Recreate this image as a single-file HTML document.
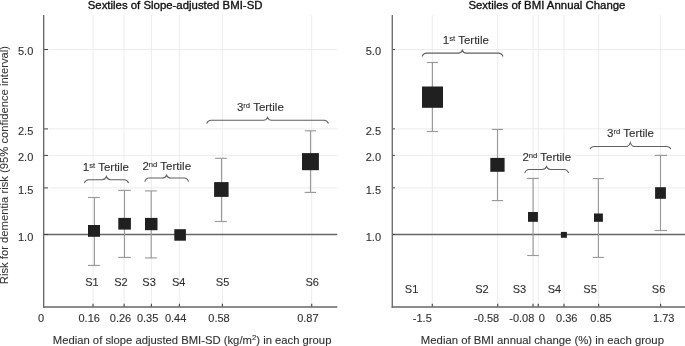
<!DOCTYPE html>
<html><head><meta charset="utf-8"><style>
html,body{margin:0;padding:0;background:#fff;width:685px;height:346px;overflow:hidden}
svg{display:block;filter:grayscale(1)}
text{font-family:"Liberation Sans",sans-serif;fill:#303030;stroke:#303030;stroke-width:0.12px}
text.tk{stroke-width:0.12px}
text.yl{stroke-width:0.05px;fill:#333;stroke:#333}
text.ttl{fill:#111;stroke:#111;stroke-width:0.35px}
</style></head><body>
<svg width="685" height="346" viewBox="0 0 685 346">
<line x1="93.0" y1="15" x2="93.0" y2="307.0" stroke="#ececef" stroke-width="1"/>
<line x1="124.1" y1="15" x2="124.1" y2="307.0" stroke="#ececef" stroke-width="1"/>
<line x1="151.4" y1="15" x2="151.4" y2="307.0" stroke="#ececef" stroke-width="1"/>
<line x1="179.4" y1="15" x2="179.4" y2="307.0" stroke="#ececef" stroke-width="1"/>
<line x1="222.4" y1="15" x2="222.4" y2="307.0" stroke="#ececef" stroke-width="1"/>
<line x1="311.7" y1="15" x2="311.7" y2="307.0" stroke="#ececef" stroke-width="1"/>
<line x1="49" y1="49.5" x2="337.3" y2="49.5" stroke="#ececef" stroke-width="1"/>
<line x1="49" y1="128.9" x2="337.3" y2="128.9" stroke="#ececef" stroke-width="1"/>
<line x1="49" y1="155.4" x2="337.3" y2="155.4" stroke="#ececef" stroke-width="1"/>
<line x1="49" y1="187.9" x2="337.3" y2="187.9" stroke="#ececef" stroke-width="1"/>
<line x1="43.67" y1="234.5" x2="337.3" y2="234.5" stroke="#666666" stroke-width="1.5"/>
<line x1="43" y1="49.5" x2="48" y2="49.5" stroke="#404040" stroke-width="1"/>
<line x1="43" y1="128.9" x2="48" y2="128.9" stroke="#404040" stroke-width="1"/>
<line x1="43" y1="155.4" x2="48" y2="155.4" stroke="#404040" stroke-width="1"/>
<line x1="43" y1="187.9" x2="48" y2="187.9" stroke="#404040" stroke-width="1"/>
<line x1="43" y1="234.5" x2="48" y2="234.5" stroke="#404040" stroke-width="1"/>
<line x1="93.0" y1="303.7" x2="93.0" y2="307.0" stroke="#505050" stroke-width="1.2"/>
<line x1="124.1" y1="303.7" x2="124.1" y2="307.0" stroke="#505050" stroke-width="1.2"/>
<line x1="151.4" y1="303.7" x2="151.4" y2="307.0" stroke="#505050" stroke-width="1.2"/>
<line x1="179.4" y1="303.7" x2="179.4" y2="307.0" stroke="#505050" stroke-width="1.2"/>
<line x1="222.4" y1="303.7" x2="222.4" y2="307.0" stroke="#505050" stroke-width="1.2"/>
<line x1="311.7" y1="303.7" x2="311.7" y2="307.0" stroke="#505050" stroke-width="1.2"/>
<line x1="43.67" y1="15" x2="43.67" y2="307.7" stroke="#686868" stroke-width="1.35"/>
<line x1="42.97" y1="307.0" x2="337.3" y2="307.0" stroke="#666" stroke-width="1.4"/>
<line x1="432.3" y1="15" x2="432.3" y2="307.0" stroke="#ececef" stroke-width="1"/>
<line x1="497.7" y1="15" x2="497.7" y2="307.0" stroke="#ececef" stroke-width="1"/>
<line x1="533.0" y1="15" x2="533.0" y2="307.0" stroke="#ececef" stroke-width="1"/>
<line x1="538.3" y1="15" x2="538.3" y2="307.0" stroke="#ececef" stroke-width="1"/>
<line x1="564.0" y1="15" x2="564.0" y2="307.0" stroke="#ececef" stroke-width="1"/>
<line x1="598.6" y1="15" x2="598.6" y2="307.0" stroke="#ececef" stroke-width="1"/>
<line x1="660.6" y1="15" x2="660.6" y2="307.0" stroke="#ececef" stroke-width="1"/>
<line x1="396" y1="49.5" x2="685" y2="49.5" stroke="#ececef" stroke-width="1"/>
<line x1="396" y1="128.9" x2="685" y2="128.9" stroke="#ececef" stroke-width="1"/>
<line x1="396" y1="155.4" x2="685" y2="155.4" stroke="#ececef" stroke-width="1"/>
<line x1="396" y1="187.9" x2="685" y2="187.9" stroke="#ececef" stroke-width="1"/>
<line x1="392.3" y1="234.5" x2="685" y2="234.5" stroke="#666666" stroke-width="1.5"/>
<line x1="392" y1="49.5" x2="395" y2="49.5" stroke="#404040" stroke-width="1"/>
<line x1="392" y1="128.9" x2="395" y2="128.9" stroke="#404040" stroke-width="1"/>
<line x1="392" y1="155.4" x2="395" y2="155.4" stroke="#404040" stroke-width="1"/>
<line x1="392" y1="187.9" x2="395" y2="187.9" stroke="#404040" stroke-width="1"/>
<line x1="392" y1="234.5" x2="395" y2="234.5" stroke="#404040" stroke-width="1"/>
<line x1="432.3" y1="303.7" x2="432.3" y2="307.0" stroke="#505050" stroke-width="1.2"/>
<line x1="497.7" y1="303.7" x2="497.7" y2="307.0" stroke="#505050" stroke-width="1.2"/>
<line x1="533.0" y1="303.7" x2="533.0" y2="307.0" stroke="#505050" stroke-width="1.2"/>
<line x1="538.3" y1="303.7" x2="538.3" y2="307.0" stroke="#505050" stroke-width="1.2"/>
<line x1="564.0" y1="303.7" x2="564.0" y2="307.0" stroke="#505050" stroke-width="1.2"/>
<line x1="598.6" y1="303.7" x2="598.6" y2="307.0" stroke="#505050" stroke-width="1.2"/>
<line x1="660.6" y1="303.7" x2="660.6" y2="307.0" stroke="#505050" stroke-width="1.2"/>
<line x1="392.3" y1="15" x2="392.3" y2="307.7" stroke="#707070" stroke-width="1.4"/>
<line x1="391.6" y1="307.0" x2="685" y2="307.0" stroke="#666" stroke-width="1.4"/>
<line x1="94.4" y1="197.5" x2="94.4" y2="265.4" stroke="#9a9a9e" stroke-width="1.15"/>
<line x1="88.0" y1="197.5" x2="99.8" y2="197.5" stroke="#9a9a9e" stroke-width="1.15"/>
<line x1="88.0" y1="265.4" x2="99.8" y2="265.4" stroke="#9a9a9e" stroke-width="1.15"/>
<rect x="88.0" y="225.0" width="12.00" height="11.80" fill="#231f20"/>
<line x1="124.5" y1="190.4" x2="124.5" y2="257.4" stroke="#9a9a9e" stroke-width="1.15"/>
<line x1="118.2" y1="190.4" x2="130.9" y2="190.4" stroke="#9a9a9e" stroke-width="1.15"/>
<line x1="118.2" y1="257.4" x2="130.9" y2="257.4" stroke="#9a9a9e" stroke-width="1.15"/>
<rect x="118.3" y="217.9" width="12.60" height="11.70" fill="#231f20"/>
<line x1="151.2" y1="190.9" x2="151.2" y2="257.9" stroke="#9a9a9e" stroke-width="1.15"/>
<line x1="145.0" y1="190.9" x2="156.8" y2="190.9" stroke="#9a9a9e" stroke-width="1.15"/>
<line x1="145.0" y1="257.9" x2="156.8" y2="257.9" stroke="#9a9a9e" stroke-width="1.15"/>
<rect x="145.0" y="217.9" width="12.50" height="12.30" fill="#231f20"/>
<rect x="174.3" y="229.2" width="11.60" height="11.50" fill="#231f20"/>
<line x1="221.5" y1="158.3" x2="221.5" y2="221.5" stroke="#9a9a9e" stroke-width="1.15"/>
<line x1="215.1" y1="158.3" x2="226.9" y2="158.3" stroke="#9a9a9e" stroke-width="1.15"/>
<line x1="215.1" y1="221.5" x2="226.9" y2="221.5" stroke="#9a9a9e" stroke-width="1.15"/>
<rect x="214.1" y="182.1" width="14.50" height="14.80" fill="#231f20"/>
<line x1="310.5" y1="130.8" x2="310.5" y2="192.4" stroke="#9a9a9e" stroke-width="1.15"/>
<line x1="304.7" y1="130.8" x2="316.0" y2="130.8" stroke="#9a9a9e" stroke-width="1.15"/>
<line x1="304.7" y1="192.4" x2="316.0" y2="192.4" stroke="#9a9a9e" stroke-width="1.15"/>
<rect x="302.0" y="153.1" width="16.90" height="17.10" fill="#231f20"/>
<line x1="432.4" y1="62.5" x2="432.4" y2="131.5" stroke="#9a9a9e" stroke-width="1.15"/>
<line x1="426.9" y1="62.5" x2="438.0" y2="62.5" stroke="#9a9a9e" stroke-width="1.15"/>
<line x1="426.9" y1="131.5" x2="438.0" y2="131.5" stroke="#9a9a9e" stroke-width="1.15"/>
<rect x="422.0" y="86.5" width="21.00" height="21.30" fill="#231f20"/>
<line x1="497.5" y1="129.4" x2="497.5" y2="200.6" stroke="#9a9a9e" stroke-width="1.15"/>
<line x1="491.8" y1="129.4" x2="503.1" y2="129.4" stroke="#9a9a9e" stroke-width="1.15"/>
<line x1="491.8" y1="200.6" x2="503.1" y2="200.6" stroke="#9a9a9e" stroke-width="1.15"/>
<rect x="490.3" y="157.9" width="14.30" height="13.90" fill="#231f20"/>
<line x1="533.1" y1="178.4" x2="533.1" y2="255.5" stroke="#9a9a9e" stroke-width="1.15"/>
<line x1="527.1" y1="178.4" x2="538.9" y2="178.4" stroke="#9a9a9e" stroke-width="1.15"/>
<line x1="527.1" y1="255.5" x2="538.9" y2="255.5" stroke="#9a9a9e" stroke-width="1.15"/>
<rect x="528.0" y="212.0" width="9.90" height="9.80" fill="#231f20"/>
<rect x="560.9" y="231.9" width="6.00" height="5.90" fill="#231f20"/>
<line x1="598.4" y1="178.6" x2="598.4" y2="257.4" stroke="#9a9a9e" stroke-width="1.15"/>
<line x1="592.7" y1="178.6" x2="603.8" y2="178.6" stroke="#9a9a9e" stroke-width="1.15"/>
<line x1="592.7" y1="257.4" x2="603.8" y2="257.4" stroke="#9a9a9e" stroke-width="1.15"/>
<rect x="594.0" y="213.5" width="8.90" height="8.30" fill="#231f20"/>
<line x1="660.5" y1="155.4" x2="660.5" y2="230.5" stroke="#9a9a9e" stroke-width="1.15"/>
<line x1="654.7" y1="155.4" x2="667.0" y2="155.4" stroke="#9a9a9e" stroke-width="1.15"/>
<line x1="654.7" y1="230.5" x2="667.0" y2="230.5" stroke="#9a9a9e" stroke-width="1.15"/>
<rect x="655.1" y="187.2" width="10.80" height="11.60" fill="#231f20"/>
<path d="M84.3,183.0 Q85.6,179.7 88.6,179.7 L102.4,179.7 Q105.2,179.7 106.4,176.5 Q107.60000000000001,179.7 110.4,179.7 L124.3,179.7 Q127.3,179.7 128.6,183.0" fill="none" stroke="#606060" stroke-width="1.05"/>
<path d="M144.7,181.7 Q146.0,178.0 149.0,178.0 L162.6,178.0 Q165.4,178.0 166.6,175.2 Q167.79999999999998,178.0 170.6,178.0 L184.29999999999998,178.0 Q187.29999999999998,178.0 188.6,181.7" fill="none" stroke="#606060" stroke-width="1.05"/>
<path d="M206.7,123.5 Q208.0,120.3 211.0,120.3 L263.5,120.3 Q266.3,120.3 267.5,117.4 Q268.7,120.3 271.5,120.3 L324.2,120.3 Q327.2,120.3 328.5,123.5" fill="none" stroke="#606060" stroke-width="1.05"/>
<path d="M422.1,56.5 Q423.40000000000003,53.1 426.40000000000003,53.1 L458.3,53.1 Q461.1,53.1 462.3,50.2 Q463.5,53.1 466.3,53.1 L498.7,53.1 Q501.7,53.1 503.0,56.5" fill="none" stroke="#606060" stroke-width="1.05"/>
<path d="M524.7,173.1 Q526.0,169.5 529.0,169.5 L542.5,169.5 Q545.3,169.5 546.5,166.5 Q547.7,169.5 550.5,169.5 L564.3000000000001,169.5 Q567.3000000000001,169.5 568.6,173.1" fill="none" stroke="#606060" stroke-width="1.05"/>
<path d="M590.0,149.0 Q591.3,146.4 594.3,146.4 L626.3,146.4 Q629.0999999999999,146.4 630.3,142.6 Q631.5,146.4 634.3,146.4 L666.5,146.4 Q669.5,146.4 670.8,149.0" fill="none" stroke="#606060" stroke-width="1.05"/>
<text x="82.8" y="171.0" font-size="11.5">1<tspan font-size="7.7" dy="-3.2">st</tspan><tspan dy="3.2"> Tertile</tspan></text>
<text x="142.4" y="170.1" font-size="11.5">2<tspan font-size="7.7" dy="-3.2">nd</tspan><tspan dy="3.2"> Tertile</tspan></text>
<text x="236.9" y="111.2" font-size="11.5">3<tspan font-size="7.7" dy="-3.2">rd</tspan><tspan dy="3.2"> Tertile</tspan></text>
<text x="442.8" y="44.0" font-size="11.5">1<tspan font-size="7.7" dy="-3.2">st</tspan><tspan dy="3.2"> Tertile</tspan></text>
<text x="522.4" y="161.3" font-size="11.5">2<tspan font-size="7.7" dy="-3.2">nd</tspan><tspan dy="3.2"> Tertile</tspan></text>
<text x="607.0" y="137.2" font-size="11.5">3<tspan font-size="7.7" dy="-3.2">rd</tspan><tspan dy="3.2"> Tertile</tspan></text>
<text x="33.3" y="54.7" text-anchor="end" font-size="11.0" class="tk">5.0</text>
<text x="381.0" y="54.7" text-anchor="end" font-size="11.0" class="tk">5.0</text>
<text x="33.3" y="135.0" text-anchor="end" font-size="11.0" class="tk">2.5</text>
<text x="381.0" y="135.0" text-anchor="end" font-size="11.0" class="tk">2.5</text>
<text x="33.3" y="160.8" text-anchor="end" font-size="11.0" class="tk">2.0</text>
<text x="381.0" y="160.8" text-anchor="end" font-size="11.0" class="tk">2.0</text>
<text x="33.3" y="194.1" text-anchor="end" font-size="11.0" class="tk">1.5</text>
<text x="381.0" y="194.1" text-anchor="end" font-size="11.0" class="tk">1.5</text>
<text x="33.3" y="241.0" text-anchor="end" font-size="11.0" class="tk">1.0</text>
<text x="381.0" y="241.0" text-anchor="end" font-size="11.0" class="tk">1.0</text>
<text x="41.1" y="321.9" text-anchor="middle" font-size="11.0" >0</text>
<text x="89.2" y="321.9" text-anchor="middle" font-size="11.0" >0.16</text>
<text x="120.5" y="321.9" text-anchor="middle" font-size="11.0" >0.26</text>
<text x="147.6" y="321.9" text-anchor="middle" font-size="11.0" >0.35</text>
<text x="175.6" y="321.9" text-anchor="middle" font-size="11.0" >0.44</text>
<text x="219.0" y="321.9" text-anchor="middle" font-size="11.0" >0.58</text>
<text x="307.9" y="321.9" text-anchor="middle" font-size="11.0" >0.87</text>
<text x="422.3" y="321.6" text-anchor="middle" font-size="11.0" >-1.5</text>
<text x="486.6" y="321.6" text-anchor="middle" font-size="11.0" >-0.58</text>
<text x="521.8" y="321.6" text-anchor="middle" font-size="11.0" >-0.08</text>
<text x="541.8" y="321.6" text-anchor="middle" font-size="11.0" >0</text>
<text x="566.8" y="321.6" text-anchor="middle" font-size="11.0" >0.36</text>
<text x="601.0" y="321.6" text-anchor="middle" font-size="11.0" >0.85</text>
<text x="663.8" y="321.6" text-anchor="middle" font-size="11.0" >1.73</text>
<text x="92.0" y="286.0" text-anchor="middle" font-size="11.0" >S1</text>
<text x="120.9" y="286.0" text-anchor="middle" font-size="11.0" >S2</text>
<text x="149.1" y="286.0" text-anchor="middle" font-size="11.0" >S3</text>
<text x="178.7" y="286.0" text-anchor="middle" font-size="11.0" >S4</text>
<text x="222.6" y="286.0" text-anchor="middle" font-size="11.0" >S5</text>
<text x="312.2" y="286.0" text-anchor="middle" font-size="11.0" >S6</text>
<text x="411.6" y="293.2" text-anchor="middle" font-size="11.0" >S1</text>
<text x="481.9" y="293.2" text-anchor="middle" font-size="11.0" >S2</text>
<text x="519.5" y="293.2" text-anchor="middle" font-size="11.0" >S3</text>
<text x="554.5" y="293.2" text-anchor="middle" font-size="11.0" >S4</text>
<text x="590.1" y="293.2" text-anchor="middle" font-size="11.0" >S5</text>
<text x="658.6" y="293.2" text-anchor="middle" font-size="11.0" >S6</text>
<text x="175.1" y="8.6" text-anchor="middle" font-size="11.4" class="ttl">Sextiles of Slope-adjusted BMI-SD</text>
<text x="546.9" y="8.6" text-anchor="middle" font-size="11.4" class="ttl">Sextiles of BMI Annual Change</text>
<text x="192.1" y="343.7" text-anchor="middle" font-size="11.28">Median of slope adjusted BMI-SD (kg/m<tspan font-size="7.8" dy="-3.6">2</tspan><tspan dy="3.6">) in each group</tspan></text>
<text x="542.4" y="343.7" text-anchor="middle" font-size="11.33" >Median of BMI annual change (%) in each group</text>
<text transform="translate(8.1,165.1) rotate(-90)" x="0" y="0" text-anchor="middle" font-size="11.25" class="yl">Risk for dementia risk (95% confidence interval)</text>
</svg>
</body></html>
